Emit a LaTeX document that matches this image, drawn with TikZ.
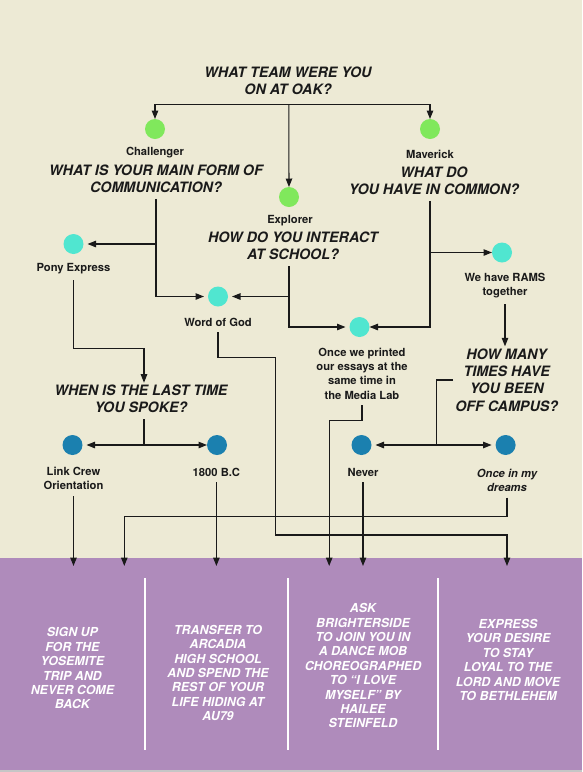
\documentclass[tikz,border=0pt]{standalone}
\usepackage{fontspec}
\setmainfont{TeX Gyre Heros}
\usetikzlibrary{arrows.meta}

\definecolor{paper}{HTML}{EDEAD5}
\definecolor{band}{HTML}{AF8BBB}
\definecolor{teamgreen}{HTML}{80E85C}
\definecolor{modeteal}{HTML}{50E6D0}
\definecolor{lastblue}{HTML}{1B80AF}
\definecolor{ink}{HTML}{1A1A1A}

\begin{document}
\begin{tikzpicture}[
    x=1pt, y=-1pt,
    question/.style={font=\fontsize{14.3}{17.4}\selectfont\bfseries\itshape, align=center, inner sep=2pt, text=ink},
    answer/.style={font=\fontsize{11.2}{14.2}\selectfont\bfseries, align=center, inner sep=2pt, text=ink},
    outcome/.style={font=\fontsize{12.4}{14.4}\selectfont\bfseries\itshape, align=center, text=white},
    dot/.style={circle, minimum size=20pt, inner sep=0pt, outer sep=0pt},
    team/.style={dot, fill=teamgreen},
    mode/.style={dot, fill=modeteal},
    last/.style={dot, fill=lastblue},
    link/.style={draw=ink, line width=1.1pt},
    arrow/.style={link, -{Triangle[length=8.5pt, width=6.5pt]}},
    gap/.style={shorten >=4pt},
    fromtext/.style={shorten <=4pt},
    divider/.style={draw=white, line width=1.6pt}
]

% Background and answer band
\fill[paper] (0,0) rectangle (582,772);
\fill[band] (0,558) rectangle (582,770);
\fill[gray!45] (0,770) rectangle (582,772);

% First question and teams
\node[question] (qteam) at (288,80.5) {WHAT TEAM WERE YOU\\ON AT OAK?};
\node[team] (chal) at (155,129) {};
\node[team] (mav) at (430,129) {};
\node[team] (expl) at (289,197) {};
\node[answer] (lchal) at (155,153) {Challenger};
\node[answer] (lmav) at (430,154.5) {Maverick};
\node[answer] (lexpl) at (290,220.5) {Explorer};

% Team questions
\node[question] (qchal) at (156,178.7) {WHAT IS YOUR MAIN FORM OF\\COMMUNICATION?};
\node[question] (qmav) at (434,180.5) {WHAT DO\\YOU HAVE IN COMMON?};
\node[question] (qexpl) at (293,246) {HOW DO YOU INTERACT\\AT SCHOOL?};

% Second answers
\node[mode] (pony) at (73.5,244) {};
\node[mode] (wog) at (218,296.5) {};
\node[mode] (print) at (359.5,327) {};
\node[mode] (rams) at (502,252.5) {};
\node[answer] (lpony) at (73.5,268.5) {Pony Express};
\node[answer] (lwog) at (218,322) {Word of God};
\node[answer] (lprint) at (362,373.7) {Once we printed\\our essays at the\\same time in\\the Media Lab};
\node[answer] (lrams) at (505,285.5) {We have RAMS\\together};

% Follow-up questions
\node[question] (qwhen) at (141,399) {WHEN IS THE LAST TIME\\YOU SPOKE?};
\node[question] (qoff) at (506.7,380) {HOW MANY\\TIMES HAVE\\YOU BEEN\\OFF CAMPUS?};

% Last answers
\node[last] (link) at (72.5,445) {};
\node[last] (bc) at (217,445) {};
\node[last] (never) at (361.5,445) {};
\node[last] (dreams) at (505.6,445) {};
\node[answer] (llink) at (73.5,478.5) {Link Crew\\Orientation};
\node[answer] (lbc) at (216.4,472) {1800 B.C};
\node[answer] (lnever) at (363,472) {Never};
\node[answer, font=\fontsize{11.2}{14.2}\selectfont\bfseries\itshape] (ldreams) at (507,480) {Once in my\\dreams};

% Outcomes
\node[outcome] (out1) at (72.4,668.3) {SIGN UP\\FOR THE\\YOSEMITE\\TRIP AND\\NEVER COME\\BACK};
\node[outcome] (out2) at (218,673) {TRANSFER TO\\ARCADIA\\HIGH SCHOOL\\AND SPEND THE\\REST OF YOUR\\LIFE HIDING AT\\AU79};
\node[outcome] (out3) at (363,665.8) {ASK\\BRIGHTERSIDE\\TO JOIN YOU IN\\A DANCE MOB\\CHOREOGRAPHED\\TO “I LOVE\\MYSELF” BY\\HAILEE\\STEINFELD};
\node[outcome] (out4) at (508,660) {EXPRESS\\YOUR DESIRE\\TO STAY\\LOYAL TO THE\\LORD AND MOVE\\TO BETHLEHEM};

\foreach \x in {144.8, 287.7, 438}
    \draw[divider] (\x,578) -- (\x,750);

% Bend points
\coordinate (split) at (288.8,104.3);
\coordinate (jpw) at (144,348.3);
\coordinate (jwhen) at (144,445);
\coordinate (joff) at (436.2,445);
\coordinate (jw1) at (275.8,357.7);
\coordinate (jw2) at (275.8,535);
\coordinate (jdr) at (124.3,516.7);
\coordinate (jpr) at (329.2,420.7);
\coordinate (bot) at (0,566);

% Teams
\draw[arrow] (split) -| (chal);
\draw[arrow] (split) -| (mav);
\draw[arrow] (split) -- (expl);

% Team questions to answers
\draw[arrow, gap, fromtext] (qchal.south) |- (wog);
\draw[arrow, gap] (qchal.south |- pony) -- (pony);
\draw[arrow, gap, fromtext] (expl |- qexpl.south) |- (print);
\draw[arrow, gap] (expl |- wog) -- (wog);
\draw[arrow, fromtext] (mav |- qmav.south) |- (print);
\draw[arrow] (mav |- rams) -- (rams);

% Towards the follow-up questions
\draw[arrow, fromtext] (lrams.south) -- (lrams.south |- qoff.north);
\draw[arrow, fromtext] (lpony.south) |- (jpw) -- (jpw |- qwhen.north);
\draw[link, fromtext] (jwhen |- qwhen.south) -- (jwhen);
\draw[arrow, gap] (jwhen) -- (link);
\draw[arrow] (jwhen) -- (bc);
\draw[link] (qoff.west) -| (joff);
\draw[arrow, gap] (joff) -- (never);
\draw[arrow, gap] (joff) -- (dreams);

% Down to the outcomes
\draw[arrow, fromtext] (lwog.south) |- (jw1) -- (jw2) -| (ldreams.south |- bot);
\draw[arrow, fromtext] (ldreams.south) |- (jdr) -- (jdr |- bot);
\draw[arrow, fromtext] (lprint.south) |- (jpr) -- (jpr |- bot);
\draw[arrow, fromtext] (llink.south) -- (llink.south |- bot);
\draw[arrow, fromtext] (lbc.south) -- (lbc.south |- bot);
\draw[arrow, fromtext] (lnever.south) -- (lnever.south |- bot);

\end{tikzpicture}
\end{document}
